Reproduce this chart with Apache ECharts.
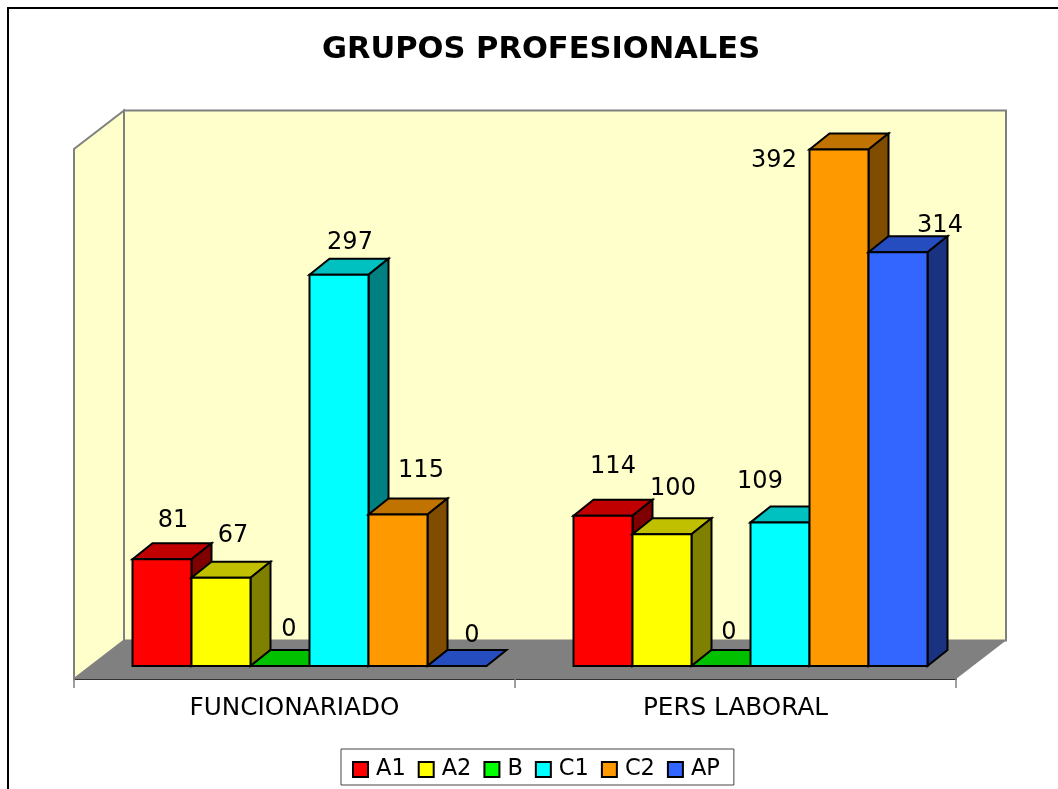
<!DOCTYPE html>
<html><head><meta charset="utf-8">
<style>html,body{margin:0;padding:0;background:#fff}#c{width:1058px;height:789px}</style>
<script src="https://cdn.jsdelivr.net/npm/echarts@6/dist/echarts.min.js"></script>
</head><body><div id="c"></div>
<script>
const categories = ['FUNCIONARIADO', 'PERS LABORAL'];
const seriesNames = ['A1', 'A2', 'B', 'C1', 'C2', 'AP'];
const A1 = [81, 114];
const A2 = [67, 100];
const B = [0, 0];
const C1 = [297, 109];
const C2 = [115, 392];
const AP = [0, 314];
const seriesValues = [A1, A2, B, C1, C2, AP];

const colors = ['#ff0000', '#ffff00', '#00ff00', '#00ffff', '#ff9900', '#3366ff'];
const topColors = ['#c00000', '#c0c000', '#00c000', '#00c0c0', '#c07300', '#264dc0'];
const sideColors = ['#800000', '#808000', '#008000', '#008080', '#804d00', '#1a3380'];
// label nudges [dx, dy] from the bar's centre-top, per series and category
const labelNudge = [
  [[11, -39], [10, -49]],
  [[12, -42], [11, -45]],
  [[9, -36], [8, -33]],
  [[11, -32], [-20, -41]],
  [[23, -44], [-65, 11]],
  [[15, -30], [42, -27]]
];
const FONT = '"DejaVu Sans", Verdana, sans-serif';
const DX = 20, DY = -16, BAR = 59, SHIFT = 15;

function poly(points, fill, stroke, lw) {
  return { type: 'polygon', shape: { points }, style: { fill, stroke, lineWidth: lw, lineJoin: 'miter' } };
}
function renderWalls(params) {
  const cs = params.coordSys;
  const L = cs.x, R = cs.x + cs.width, fl = cs.y + cs.height + 13, top = cs.y + 10;
  const ddx = 50, ddy = -38.5;
  return { type: 'group', silent: true, children: [
    poly([[L + ddx, top + ddy], [R + ddx, top + ddy], [R + ddx, fl + ddy], [L + ddx, fl + ddy]], '#ffffcc', '#808080', 2),
    poly([[L, top], [L + ddx, top + ddy], [L + ddx, fl + ddy], [L, fl]], '#ffffcc', '#808080', 2),
    poly([[L + ddx, fl + ddy], [R + ddx, fl + ddy], [R, fl], [L, fl]], '#808080', null, 0)
  ] };
}
function makeRender(si) {
  return function (params, api) {
    const ci = api.value(0), v = api.value(1);
    const p = api.coord([ci, v]), base = api.coord([ci, 0]);
    const x0 = base[0] + SHIFT - 3 * BAR + si * BAR, x1 = x0 + BAR;
    const yT = p[1], yB = base[1];
    const n = labelNudge[si][ci];
    const kids = [];
    kids.push(poly([[x0, yT], [x0 + DX, yT + DY], [x1 + DX, yT + DY], [x1, yT]], topColors[si], '#000', 2));
    if (v > 0) {
      kids.push(poly([[x1, yT], [x1 + DX, yT + DY], [x1 + DX, yB + DY], [x1, yB]], sideColors[si], '#000', 2));
      kids.push({ type: 'rect', shape: { x: x0, y: yT, width: BAR, height: yB - yT },
        style: { fill: colors[si], stroke: '#000', lineWidth: 2 } });
    }
    kids.push({ type: 'text', style: { x: (x0 + x1) / 2 + n[0], y: yT + n[1], text: String(v),
      fill: '#000', font: '24px ' + FONT, align: 'center', verticalAlign: 'middle' } });
    return { type: 'group', children: kids };
  };
}
const series = [{
  type: 'custom', name: '_walls', silent: true, coordinateSystem: 'cartesian2d',
  data: [[0, 0]], renderItem: renderWalls, z: 1
}];
seriesNames.forEach((name, si) => {
  series.push({
    type: 'custom', name, coordinateSystem: 'cartesian2d', z: 2 + si,
    encode: { x: 0, y: 1 },
    itemStyle: { color: colors[si] },
    data: seriesValues[si].map((v, ci) => [ci, v]),
    renderItem: makeRender(si)
  });
});
const chart = echarts.init(document.getElementById('c'), null, { renderer: 'canvas' });
chart.setOption({
  animation: false,
  backgroundColor: '#ffffff',
  graphic: [{
    type: 'polyline', silent: true, z: 100,
    shape: { points: [[8, 789], [8, 8], [1058, 8]] },
    style: { stroke: '#000', lineWidth: 2, fill: null }
  }],
  title: {
    text: 'GRUPOS PROFESIONALES', left: 536, textAlign: 'center', top: 30,
    textStyle: { fontFamily: FONT, fontWeight: 'bold', fontSize: 30.5, color: '#000' }
  },
  legend: {
    data: seriesNames, left: 341, top: 749, orient: 'horizontal',
    icon: 'rect', itemWidth: 15, itemHeight: 15, itemGap: 12,
    padding: [9, 14, 4, 11], borderColor: '#444', borderWidth: 1, backgroundColor: '#fff',
    textStyle: { fontFamily: FONT, fontSize: 22.5, color: '#000', padding: [3, 0, 0, 3] },
    itemStyle: { borderColor: '#000', borderWidth: 2 },
    selectedMode: false
  },
  grid: { left: 74, width: 882, top: 139, height: 527, containLabel: false },
  xAxis: {
    type: 'category', data: categories, offset: 13,
    boundaryGap: true,
    axisLine: { show: true, onZero: false, lineStyle: { color: '#333', width: 2 } },
    axisTick: { show: true, length: 9, lineStyle: { color: '#808080', width: 1.5 } },
    axisLabel: { color: '#000', fontFamily: FONT, fontSize: 24.7, margin: 17 }
  },
  yAxis: { type: 'value', min: 0, max: 400, show: false, splitLine: { show: false } },
  series
});
</script></body></html>
